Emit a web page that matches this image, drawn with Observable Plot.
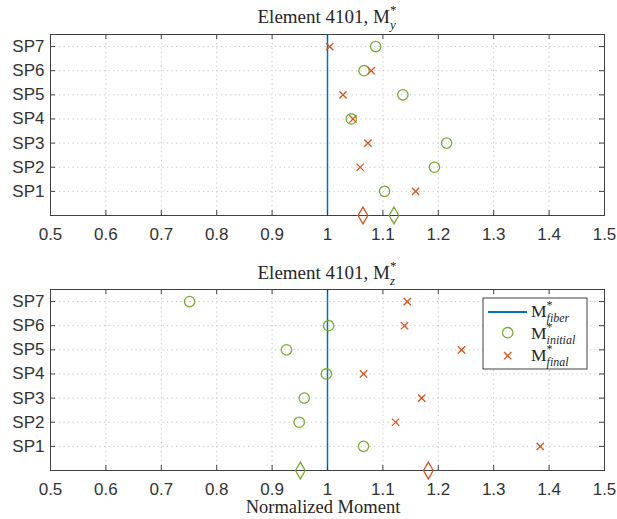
<!DOCTYPE html>
<html>
<head>
<meta charset="utf-8">
<script src="https://cdn.jsdelivr.net/npm/d3@7"></script>
<script src="https://cdn.jsdelivr.net/npm/@observablehq/plot@0.6"></script>
<style>
  html, body { margin: 0; padding: 0; background: #fff; }
  #chart svg { display: block; overflow: visible; }
</style>
</head>
<body>
<div id="chart"></div>
<script>
// ---- data ----
const points = ["SP1", "SP2", "SP3", "SP4", "SP5", "SP6", "SP7"];
const pointRows = [1, 2, 3, 4, 5, 6, 7];
const xTicks = [0.5, 0.6, 0.7, 0.8, 0.9, 1, 1.1, 1.2, 1.3, 1.4, 1.5];
const fiberValue = 1;

const myInitial = [1.103, 1.193, 1.215, 1.043, 1.136, 1.066, 1.087];
const myFinal   = [1.159, 1.059, 1.073, 1.046, 1.028, 1.079, 1.004];
const myMeanInitial = 1.120;
const myMeanFinal   = 1.064;

const mzInitial = [1.065, 0.949, 0.958, 0.998, 0.926, 1.002, 0.751];
const mzFinal   = [1.384, 1.123, 1.170, 1.065, 1.242, 1.139, 1.144];
const mzMeanInitial = 0.951;
const mzMeanFinal   = 1.182;

const GREEN = "#77AC30", RED = "#D95319", BLUE = "#0072BD", AXIS = "#404040";
const SERIF = "'Liberation Serif', 'DejaVu Serif', serif";

function panel(initial, final, meanInit, meanFinal, opts) {
  const W = 617, H = opts.height, mt = opts.mt, mb = opts.mb, ml = 50, mr = 13;
  const frameH = H - mt - mb, frameW = W - ml - mr;
  const rowsI = points.map((p, i) => ({sp: pointRows[i], v: initial[i]}));
  const rowsF = points.map((p, i) => ({sp: pointRows[i], v: final[i]}));
  const tick = 5;
  const svg = Plot.plot({
    width: W, height: H,
    marginLeft: ml, marginRight: mr, marginTop: mt, marginBottom: mb,
    style: {fontFamily: "'Liberation Sans', Arial, sans-serif", fontSize: "17px", color: "#333", background: "#fff"},
    x: {domain: [0.5, 1.5]},
    y: {domain: [0, 7.5]},
    marks: [
      // grid
      Plot.ruleX(xTicks.slice(1, -1), {stroke: "#c4c4c4", strokeDasharray: "1.2,3.3", strokeWidth: 1}),
      Plot.ruleY(pointRows, {stroke: "#c4c4c4", strokeDasharray: "1.2,3.3", strokeWidth: 1}),
      // fiber line
      Plot.ruleX([fiberValue], {stroke: BLUE, strokeWidth: 1.5}),
      // frame + inward ticks
      Plot.frame({stroke: AXIS, strokeWidth: 1}),
      Plot.ruleX(xTicks, {stroke: AXIS, insetTop: frameH - tick}),
      Plot.ruleX(xTicks, {stroke: AXIS, insetBottom: frameH - tick}),
      Plot.ruleY(pointRows, {stroke: AXIS, insetLeft: frameW - tick}),
      Plot.ruleY(pointRows, {stroke: AXIS, insetRight: frameW - tick}),
      // axes labels
      Plot.axisX({ticks: xTicks, tickSize: 0, tickPadding: 12, tickFormat: d => String(d), label: null, fontSize: 17}),
      Plot.axisY({ticks: pointRows, tickSize: 0, tickPadding: 6, tickFormat: d => points[d - 1], label: null, fontSize: 17}),
      // markers
      Plot.dot(rowsI, {x: "v", y: "sp", symbol: "circle", r: 5.2, stroke: GREEN, strokeWidth: 1.3, fill: "none"}),
      Plot.dot(rowsF, {x: "v", y: "sp", symbol: "times", r: 3.4, stroke: RED, strokeWidth: 1.3, fill: "none"}),
      Plot.dot([{v: meanInit, sp: 0}], {x: "v", y: "sp", symbol: "diamond", r: 5.1, stroke: GREEN, strokeWidth: 1.3, fill: "none"}),
      Plot.dot([{v: meanFinal, sp: 0}], {x: "v", y: "sp", symbol: "diamond", r: 5.1, stroke: RED, strokeWidth: 1.3, fill: "none"})
    ]
  });
  return svg;
}

function richText(g, x, y, base, sup, sub, size, anchor) {
  const t = g.append("text")
    .attr("x", x).attr("y", y)
    .attr("font-family", SERIF).attr("font-size", size)
    .attr("fill", "#262626").attr("text-anchor", anchor || "start");
  t.append("tspan").text(base);
  const small = Math.round(size * 0.7);
  const up = size * 0.48, down = size * 0.3;
  t.append("tspan").attr("font-size", small).attr("dy", -up).text(sup);
  t.append("tspan").attr("font-size", small).attr("font-style", "italic")
    .attr("dx", -small * 0.5).attr("dy", up + down).text(sub);
  return t;
}

const root = document.getElementById("chart");

// Panel 1
const p1 = panel(myInitial, myFinal, myMeanInitial, myMeanFinal, {height: 260, mt: 34, mb: 45});
root.appendChild(p1);
const s1 = d3.select(p1);
richText(s1, 327, 23, "Element 4101, M", "*", "y", 19, "middle");

// Panel 2
const p2 = panel(mzInitial, mzFinal, mzMeanInitial, mzMeanFinal, {height: 259, mt: 29, mb: 49});
root.appendChild(p2);
const s2 = d3.select(p2);
richText(s2, 327, 19, "Element 4101, M", "*", "z", 19, "middle");
s2.append("text").attr("x", 323).attr("y", 253).attr("text-anchor", "middle")
  .attr("font-family", SERIF).attr("font-size", 18.5).attr("fill", "#262626")
  .text("Normalized Moment");

// Legend
const lg = s2.append("g");
lg.append("rect").attr("x", 483).attr("y", 38).attr("width", 104).attr("height", 71)
  .attr("fill", "#fff").attr("stroke", AXIS).attr("stroke-width", 1);
lg.append("line").attr("x1", 488).attr("x2", 527).attr("y1", 52).attr("y2", 52)
  .attr("stroke", BLUE).attr("stroke-width", 2);
lg.append("circle").attr("cx", 507.7).attr("cy", 72.7).attr("r", 5.2)
  .attr("fill", "none").attr("stroke", GREEN).attr("stroke-width", 1.3);
lg.append("path").attr("transform", "translate(507.7,95.7)")
  .attr("d", d3.symbol(d3.symbolTimes, Math.PI * 3.4 * 3.4)())
  .attr("fill", "none").attr("stroke", RED).attr("stroke-width", 1.3);
richText(lg, 531, 57, "M", "*", "fiber", 17.5);
richText(lg, 531, 79, "M", "*", "initial", 17.5);
richText(lg, 531, 101, "M", "*", "final", 17.5);
</script>
</body>
</html>
